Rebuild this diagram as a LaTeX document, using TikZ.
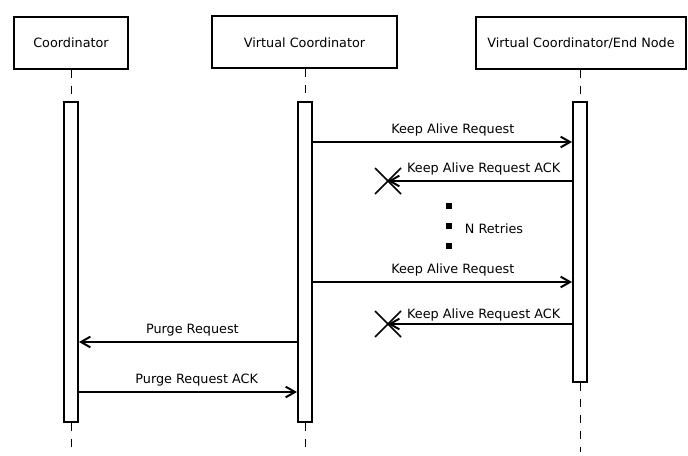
\documentclass[tikz,border=0pt]{standalone}
\usepackage{fontspec}
\setmainfont{DejaVu Sans}
\usetikzlibrary{arrows.meta}
\begin{document}
\begin{tikzpicture}[x=0.75pt, y=-0.75pt, font=\fontsize{9.6}{11}\selectfont]
    \tikzstyle{head} = [draw, line width=1.5pt, minimum height=39pt, inner sep=0pt]
    \tikzstyle{bar} = [draw, line width=1.5pt, fill=white, minimum width=10.5pt, inner sep=0pt]
    \tikzstyle{life} = [line width=0.6pt, dash pattern=on 6pt off 6pt]
    \tikzstyle{msg} = [line width=1.5pt, -{Straight Barb[length=7pt, width=8pt, line width=1.5pt]}]
    \tikzstyle{lost} = [line width=1.3pt]
    \useasboundingbox (0,0) rectangle (688,456);
    % heads
    \node[head, minimum width=85.5pt] (coord) at (71,43) {Coordinator};
    \node[head, minimum width=138.75pt] (vc) at (304.5,42.5) {Virtual Coordinator};
    \node[head, minimum width=157.5pt] (endn) at (581,43) {Virtual Coordinator/End Node};
    % activation bars
    \node[bar, minimum height=240pt] (coordbar) at (71,262) {};
    \node[bar, minimum height=240pt] (vcbar) at (305,262) {};
    \node[bar, minimum height=210pt] (endbar) at (580,242) {};
    % lifelines
    \coordinate (coordend) at (71,448);
    \coordinate (vcend) at (305,448);
    \coordinate (endend) at (580,452);
    \draw[life] (coordbar.north |- coord.south) -- (coordbar.north);
    \draw[life] (vcbar.north |- vc.south) -- (vcbar.north);
    \draw[life] (endbar.north |- endn.south) -- (endbar.north);
    \draw[life] (coordbar.south) -- (coordend);
    \draw[life] (vcbar.south) -- (vcend);
    \draw[life] (endbar.south) -- (endend);
    % message levels
    \coordinate (m1) at (0,142);
    \coordinate (m2) at (388,181);
    \coordinate (m3) at (0,282);
    \coordinate (m4) at (388,324);
    \coordinate (m5) at (0,342);
    \coordinate (m6) at (0,392);
    \draw[msg] (vcbar.east |- m1) -- (endbar.west |- m1) node[above=0pt, pos=0.54] {Keep Alive Request};
    \draw[msg] (endbar.west |- m2) -- (m2) node[above=0pt, pos=0.48] {Keep Alive Request ACK};
    \draw[lost] ([shift={(-13,-13)}]m2) -- ([shift={(13,13)}]m2);
    \draw[lost] ([shift={(-13,13)}]m2) -- ([shift={(13,-13)}]m2);
    \foreach \y in {206,226,246}
        \fill (446,\y-3) rectangle (452,\y+3);
    \node (retries) at (494,229) {N Retries};
    \draw[msg] (vcbar.east |- m3) -- (endbar.west |- m3) node[above=0pt, pos=0.54] {Keep Alive Request};
    \draw[msg] (endbar.west |- m4) -- (m4) node[above=-2pt, pos=0.48] {Keep Alive Request ACK};
    \draw[lost] ([shift={(-13,-13)}]m4) -- ([shift={(13,13)}]m4);
    \draw[lost] ([shift={(-13,13)}]m4) -- ([shift={(13,-13)}]m4);
    \draw[msg] (vcbar.west |- m5) -- (coordbar.east |- m5) node[above=0pt, pos=0.48] {Purge Request};
    \draw[msg] (coordbar.east |- m6) -- (vcbar.west |- m6) node[above=0pt, pos=0.54] {Purge Request ACK};
\end{tikzpicture}
\end{document}
